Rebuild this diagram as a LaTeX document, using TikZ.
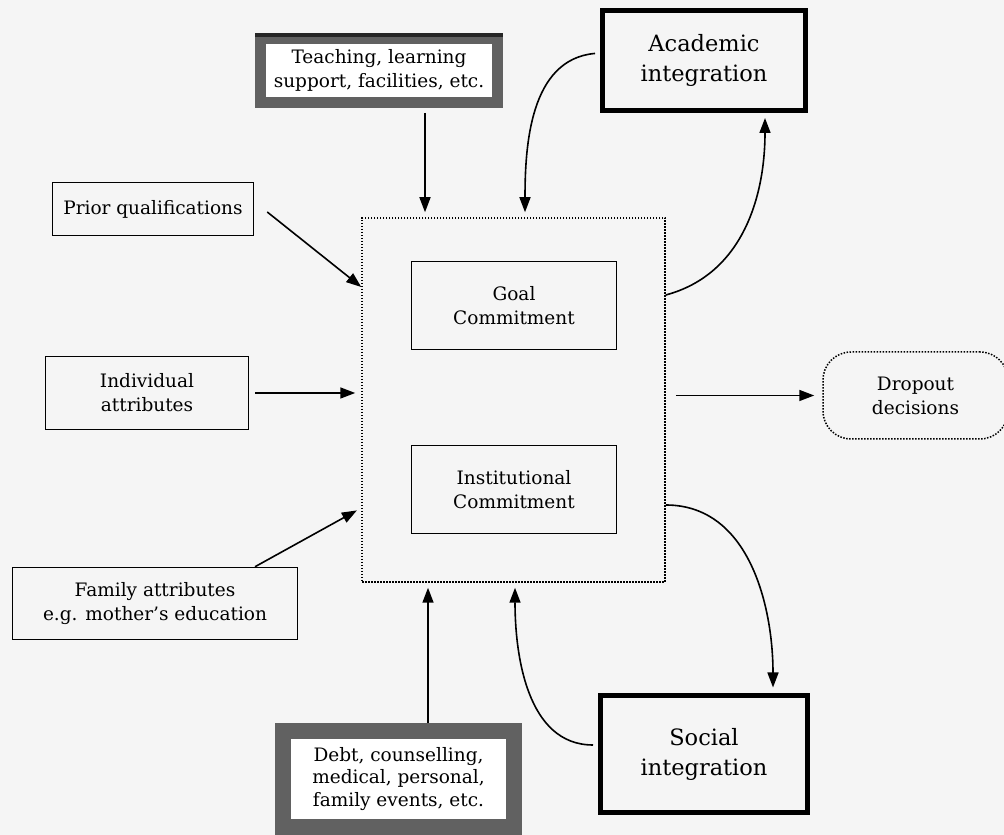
\documentclass[tikz,border=0pt]{standalone}
\usepackage{fontspec}
\setmainfont{DejaVu Serif}
\usepackage{tikz}
\usetikzlibrary{calc,arrows.meta}

\begin{document}
\begin{tikzpicture}[x=1pt,y=1pt,
    box/.style={draw,line width=1.5pt,align=center,inner sep=0pt,font=\fontsize{18.5}{24}\selectfont},
    bigbox/.style={box,line width=5pt,font=\fontsize{22.5}{30}\selectfont},
    framebox/.style={box,draw=black!62,line width=#1,fill=white},
    dotbox/.style={draw,line width=1.5pt,dash pattern=on 1.5pt off 1.5pt},
    arr/.style={-{Triangle[length=15pt,width=11pt]},line width=1.6pt}]

    % page of the scan, 1004 x 835
    \fill[gray!8] (0,0) rectangle (1004,835);
    \useasboundingbox (0,0) rectangle (1004,835);

    % central block with the two commitments
    \node[dotbox,minimum width=303pt,minimum height=364pt] (core) at (513.5,435) {};
    \node[box,minimum width=205pt,minimum height=88pt] (goal) at (514,529.5) {Goal\\Commitment};
    \node[box,minimum width=205pt,minimum height=88pt] (inst) at (514,345.5) {Institutional\\Commitment};

    % inputs on the left
    \node[box,minimum width=201pt,minimum height=53pt] (prior) at (153,626) {Prior qualifications};
    \node[box,minimum width=203pt,minimum height=73pt] (indiv) at (147,442) {Individual\\attributes};
    \node[box,minimum width=285pt,minimum height=72pt] (family) at (155,231.5) {Family attributes\\e.g. mother's education};

    % shaded frames, top and bottom
    \node[framebox=11pt,minimum width=237pt,minimum height=64pt] (teach) at (379,764.5) {Teaching, learning\\support, facilities, etc.};
    \node[framebox=16pt,minimum width=231pt,minimum height=96pt,
          font=\fontsize{18.5}{22.5}\selectfont] (debt) at (398.5,56) {Debt, counselling,\\medical, personal,\\family events, etc.};
    \draw[black!85,line width=4pt] ([yshift=-2pt]teach.north west) -- ([yshift=-2pt]teach.north east);

    % integration boxes on the right
    \node[bigbox,minimum width=203pt,minimum height=100pt] (acad) at (704,774.5) {Academic\\integration};
    \node[bigbox,minimum width=207pt,minimum height=117pt] (social) at (704,81) {Social\\integration};

    % outcome
    \node[dotbox,rounded corners=28pt,minimum width=185pt,minimum height=87pt,align=center,
          font=\fontsize{18.5}{24}\selectfont] (drop) at (915.5,439.5) {Dropout\\decisions};

    % straight arrows into the central block
    \draw[arr,shorten <=5pt,shorten >=5pt] ([xshift=46pt]teach.south) -- ([xshift=46pt]teach.south |- core.north);
    \draw[arr,shorten >=5pt] ([xshift=29.5pt]debt.north) -- ([xshift=29.5pt]debt.north |- core.south);
    \draw[arr] ($(prior.east)+(13,-3)$) -- ([yshift=113pt]core.west);
    \draw[arr,shorten <=6pt,shorten >=6pt] (indiv.east) -- (indiv.east -| core.west);
    \draw[arr,shorten >=5pt] ([xshift=100pt]family.north) -- ([yshift=-108pt]core.west);
    \draw[arr,shorten <=10pt,shorten >=8pt] (core.east |- drop.west) -- (drop.west);

    % feedback loops with the integration boxes
    \draw[arr,shorten <=5pt,shorten >=5pt] ([yshift=7.5pt]acad.west) to[out=185,in=90] ([xshift=11.5pt]core.north);
    \draw[arr,shorten >=5pt] ([yshift=105pt]core.east) to[out=15,in=270] ([xshift=61pt]acad.south);
    \draw[arr,shorten >=5.5pt] ([yshift=-105pt]core.east) to[out=0,in=90] ([xshift=69pt]social.north);
    \draw[arr,shorten <=5pt,shorten >=5pt] ([yshift=9pt]social.west) to[out=180,in=270] ([xshift=1.5pt]core.south);
\end{tikzpicture}
\end{document}
